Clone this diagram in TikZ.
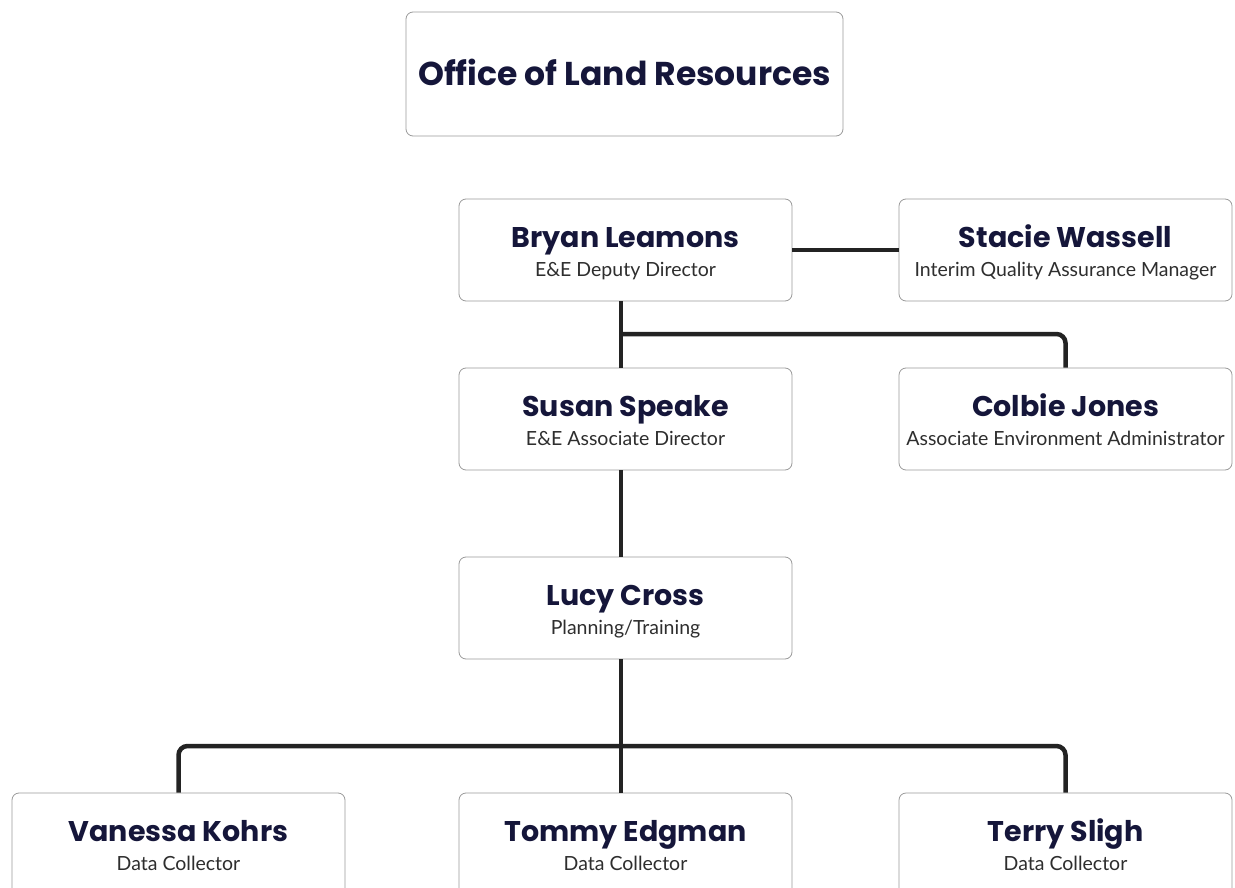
\documentclass[tikz,border=0pt]{standalone}
\usepackage{fontspec}
\setmainfont{Lato}
\newfontfamily\headfont{Poppins}
\usepackage{xcolor}

\definecolor{namenavy}{HTML}{15163A}
\definecolor{roletext}{HTML}{2E2E2E}
\definecolor{boxline}{HTML}{9A9A9A}
\definecolor{linkline}{HTML}{232323}

% name on top, role below
\newcommand{\person}[2]{{\headfont\bfseries\fontsize{28.5}{28}\selectfont\color{namenavy}#1}\\{\color{roletext}#2}}

\begin{document}
\begin{tikzpicture}[x=1pt,y=-1pt]
	\tikzstyle{every node}+=[inner sep=0pt]
	\tikzstyle{staff}=[draw=boxline, line width=0.8pt, fill=white, rounded corners=7pt,
		minimum width=333pt, minimum height=102pt, align=center,
		text height=58pt, text depth=6pt, font=\fontsize{19.5}{29}\selectfont]
	\tikzstyle{link}=[draw=linkline, line width=4.5pt, rounded corners=9pt]
	\useasboundingbox (0,0) rectangle (1235,888);
	\clip (0,0) rectangle (1235,888);

	\node [staff, minimum width=437pt, minimum height=124pt, text height=24pt, text depth=0pt] (office) at (624.5,74)
		{\headfont\bfseries\fontsize{33}{36}\selectfont\color{namenavy}Office of Land Resources};

	\node [staff] (bryan) at (625.5,250) {\person{Bryan Leamons}{E\&E Deputy Director}};
	\node [staff] (stacie) at (1065.5,250) {\person{Stacie Wassell}{Interim Quality Assurance Manager}};
	\node [staff] (susan) at (625.5,419) {\person{Susan Speake}{E\&E Associate Director}};
	\node [staff] (colbie) at (1065.5,419) {\person{Colbie Jones}{Associate Environment Administrator}};
	\node [staff] (lucy) at (625.5,608) {\person{Lucy Cross}{Planning/Training}};
	\node [staff] (vanessa) at (178.5,844) {\person{Vanessa Kohrs}{Data Collector}};
	\node [staff] (tommy) at (625.5,844) {\person{Tommy Edgman}{Data Collector}};
	\node [staff] (terry) at (1065.5,844) {\person{Terry Sligh}{Data Collector}};

	\coordinate (split1) at (621,334);
	\coordinate (split2) at (621,746);

	\draw [link] (bryan.east) -- (stacie.west);
	\draw [link] (bryan.south -| split1) -- (susan.north -| split1);
	\draw [link] (split1) -| (colbie.north);
	\draw [link] (susan.south -| split1) -- (lucy.north -| split1);
	\draw [link] (lucy.south -| split1) -- (tommy.north -| split1);
	\draw [link] (split2) -| (vanessa.north);
	\draw [link] (split2) -| (terry.north);
\end{tikzpicture}
\end{document}
